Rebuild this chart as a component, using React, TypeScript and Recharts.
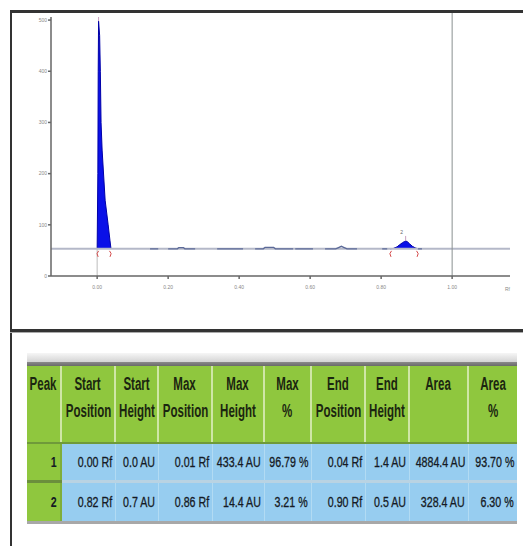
import React from "react";
import {
  ComposedChart,
  Area,
  Line,
  Scatter,
  XAxis,
  YAxis,
  ReferenceLine,
} from "recharts";

// ---------- chart data ----------
const xTicks = [0, 0.2, 0.4, 0.6, 0.8, 1.0];
const yTicks = [0, 100, 200, 300, 400, 500];
const baselineValue = 53;
const markerLineRf = 1.0;

const peak1 = [
  { x: 0.0, y: 53 },
  { x: 0.002, y: 200 },
  { x: 0.003, y: 400 },
  { x: 0.004, y: 498 },
  { x: 0.007, y: 470 },
  { x: 0.009, y: 400 },
  { x: 0.011, y: 300 },
  { x: 0.014, y: 246 },
  { x: 0.0225, y: 148 },
  { x: 0.031, y: 100 },
  { x: 0.036, y: 70 },
  { x: 0.039, y: 53 },
];

const peak2 = [
  { x: 0.825, y: 53 },
  { x: 0.835, y: 54 },
  { x: 0.845, y: 57 },
  { x: 0.852, y: 61 },
  { x: 0.86, y: 65 },
  { x: 0.866, y: 67.5 },
  { x: 0.869, y: 68.5 },
  { x: 0.874, y: 67 },
  { x: 0.88, y: 63 },
  { x: 0.888, y: 58 },
  { x: 0.896, y: 55 },
  { x: 0.904, y: 53 },
];

const signal = [
  { x: 0.149, y: 53 }, { x: 0.172, y: 53 }, { x: 0.18, y: null },
  { x: 0.2, y: 53 }, { x: 0.226, y: 53 }, { x: 0.23, y: 55.5 }, { x: 0.243, y: 55.5 }, { x: 0.247, y: 53 }, { x: 0.276, y: 53 }, { x: 0.29, y: null },
  { x: 0.338, y: 53 }, { x: 0.411, y: 53 }, { x: 0.42, y: null },
  { x: 0.445, y: 53 }, { x: 0.468, y: 53 }, { x: 0.473, y: 56 }, { x: 0.497, y: 56 }, { x: 0.502, y: 53 }, { x: 0.552, y: 53 }, { x: 0.555, y: null },
  { x: 0.558, y: 53 }, { x: 0.608, y: 53 }, { x: 0.62, y: null },
  { x: 0.642, y: 53 }, { x: 0.672, y: 53 }, { x: 0.68, y: 55.5 }, { x: 0.688, y: 58 }, { x: 0.696, y: 55.5 }, { x: 0.704, y: 53 }, { x: 0.732, y: 53 }, { x: 0.74, y: null },
  { x: 0.803, y: 53 }, { x: 0.817, y: 53 }, { x: 0.82, y: null },
  { x: 0.904, y: 53 }, { x: 0.915, y: 53 },
];

const brackets = [
  { x: 0.0, y: 53, side: "L" },
  { x: 0.039, y: 53, side: "R" },
  { x: 0.825, y: 53, side: "L" },
  { x: 0.904, y: 53, side: "R" },
];

const peakApex = [
  { x: 0.004, y: 498, label: "1" },
  { x: 0.869, y: 68.5, label: "2" },
];

// ---------- table data ----------
const tableHeaders = [
  ["Peak"],
  ["Start", "Position"],
  ["Start", "Height"],
  ["Max", "Position"],
  ["Max", "Height"],
  ["Max", "%"],
  ["End", "Position"],
  ["End", "Height"],
  ["Area"],
  ["Area", "%"],
];
const peakIds = ["1", "2"];
const startPositions = ["0.00 Rf", "0.82 Rf"];
const startHeights = ["0.0 AU", "0.7 AU"];
const maxPositions = ["0.01 Rf", "0.86 Rf"];
const maxHeights = ["433.4 AU", "14.4 AU"];
const maxPercents = ["96.79 %", "3.21 %"];
const endPositions = ["0.04 Rf", "0.90 Rf"];
const endHeights = ["1.4 AU", "0.5 AU"];
const areas = ["4884.4 AU", "328.4 AU"];
const areaPercents = ["93.70 %", "6.30 %"];

const colWidths = [35, 54, 43, 54, 52, 47, 54, 44, 59, 48];

const FONT = "'Liberation Sans', Arial, sans-serif";
const GREEN = "#8fc73e";
const BLUE = "#97cdf0";

const BracketShape = (props: any) => {
  const { cx, cy, payload } = props;
  if (cx == null || cy == null) return null;
  const d =
    payload.side === "L"
      ? `M ${cx + 1.5} ${cy + 2} Q ${cx - 1.5} ${cy + 4.5} ${cx + 1} ${cy + 8}`
      : `M ${cx - 1.5} ${cy + 2} Q ${cx + 1.5} ${cy + 4.5} ${cx - 1} ${cy + 8}`;
  return <path d={d} fill="none" stroke="#d44a4a" strokeWidth={1} />;
};

const ApexShape = (props: any) => {
  const { cx, cy, payload } = props;
  if (cx == null || cy == null) return null;
  return (
    <g>
      <line x1={cx} y1={cy - 5} x2={cx} y2={cy} stroke="#c9a0c0" strokeWidth={1} />
      <text
        x={cx - 4}
        y={cy - 7}
        fontSize={5}
        fill="#666"
        textAnchor="middle"
        fontFamily={FONT}
      >
        {payload.label}
      </text>
    </g>
  );
};

const Chromatogram = () => (
  <ComposedChart
    width={523}
    height={320}
    margin={{ top: 17, right: 13, bottom: 0, left: 0 }}
  >
    <XAxis
      type="number"
      dataKey="x"
      domain={[-0.13, 1.163]}
      allowDataOverflow
      ticks={xTicks}
      tickFormatter={(v: number) => v.toFixed(2)}
      tick={{ fontSize: 5, fill: "#888", fontFamily: FONT }}
      tickSize={3}
      tickMargin={6}
      height={44}
      stroke="#666"
      strokeWidth={1.5}
      label={{
        content: (p: any) => {
          const vb = p.viewBox || {};
          return (
            <text
              x={vb.x + vb.width}
              y={vb.y + 15}
              fontSize={5}
              fill="#888"
              textAnchor="end"
              fontFamily={FONT}
            >
              Rf
            </text>
          );
        },
      }}
    />
    <YAxis
      type="number"
      domain={[0, 506]}
      allowDataOverflow
      ticks={yTicks}
      tick={{ fontSize: 5, fill: "#888", fontFamily: FONT }}
      tickSize={3}
      tickMargin={1}
      width={51}
      stroke="#666"
      strokeWidth={1.5}
    />
    <ReferenceLine
      y={baselineValue}
      stroke="#b4b8c8"
      strokeWidth={2}
      ifOverflow="visible"
    />
    <ReferenceLine
      segment={[
        { x: 0, y: 0 },
        { x: 0, y: baselineValue },
      ]}
      stroke="#bdbdbd"
      strokeWidth={1}
    />
    <ReferenceLine
      segment={[
        { x: markerLineRf, y: 0 },
        { x: markerLineRf, y: 514 },
      ]}
      ifOverflow="visible"
      stroke="#8a9090"
      strokeWidth={1}
    />
    <Line
      data={signal}
      dataKey="y"
      type="linear"
      stroke="#5c6a98"
      strokeWidth={1.4}
      dot={false}
      activeDot={false}
      connectNulls={false}
      isAnimationActive={false}
    />
    <Area
      data={peak1}
      dataKey="y"
      type="linear"
      baseValue={baselineValue}
      stroke="#0000a8"
      strokeWidth={1}
      fill="#0a10e8"
      fillOpacity={1}
      dot={false}
      activeDot={false}
      isAnimationActive={false}
    />
    <Area
      data={peak2}
      dataKey="y"
      type="linear"
      baseValue={baselineValue}
      stroke="#0000a8"
      strokeWidth={1}
      fill="#0a10e8"
      fillOpacity={1}
      dot={false}
      activeDot={false}
      isAnimationActive={false}
    />
    <Scatter
      data={brackets}
      dataKey="y"
      shape={<BracketShape />}
      isAnimationActive={false}
    />
    <Scatter
      data={peakApex}
      dataKey="y"
      shape={<ApexShape />}
      isAnimationActive={false}
    />
  </ComposedChart>
);

const HeaderCell = ({ lines, w, last }: { lines: string[]; w: number; last: boolean }) => (
  <div
    style={{
      width: w,
      boxSizing: "border-box",
      height: "100%",
      borderRight: last ? "none" : "2px solid #cfe6a6",
      paddingTop: 5,
    }}
  >
    {lines.map((t, i) => (
      <div
        key={i}
        style={{
          display: "flex",
          justifyContent: "center",
          height: 27,
          lineHeight: "27px",
          whiteSpace: "nowrap",
        }}
      >
        <span
          style={{
            display: "inline-block",
            transform: "scaleX(0.64)",
            transformOrigin: "center",
            fontWeight: "bold",
            fontSize: 18,
            color: "#1b2610",
          }}
        >
          {t}
        </span>
      </div>
    ))}
  </div>
);

const DataCell = ({ text, w, first, last }: { text: string; w: number; first: boolean; last: boolean }) => (
  <div
    style={{
      width: w,
      boxSizing: "border-box",
      height: "100%",
      background: first ? GREEN : BLUE,
      borderRight: last ? "none" : first ? "2px solid #7fae3a" : "1px solid #b2dbf3",
      display: "flex",
      alignItems: "center",
      justifyContent: "flex-end",
      paddingRight: 3,
      whiteSpace: "nowrap",
    }}
  >
    <span
      style={{
        display: "inline-block",
        transform: "scaleX(0.76)",
        transformOrigin: "right center",
        fontSize: 14,
        fontWeight: first ? "bold" : "normal",
        color: "#151a24",
        WebkitTextStroke: first ? undefined : "0.3px #151a24",
      }}
    >
      {text}
    </span>
  </div>
);

const PeakTable = () => {
  const rows = peakIds.map((id, i) => [
    id,
    startPositions[i],
    startHeights[i],
    maxPositions[i],
    maxHeights[i],
    maxPercents[i],
    endPositions[i],
    endHeights[i],
    areas[i],
    areaPercents[i],
  ]);
  const total = colWidths.reduce((a, b) => a + b, 0);
  return (
    <div
      style={{
        position: "absolute",
        left: 27,
        top: 353,
        width: total,
        fontFamily: FONT,
      }}
    >
      <div style={{ height: 9, background: "linear-gradient(#f6f6f6, #d4d4d4)" }} />
      <div style={{ height: 4, background: "linear-gradient(#8a8a8a, #6a6a6a)" }} />
      <div style={{ display: "flex", height: 76, background: GREEN }}>
        {tableHeaders.map((lines, i) => (
          <HeaderCell key={i} lines={lines} w={colWidths[i]} last={i === tableHeaders.length - 1} />
        ))}
      </div>
      <div style={{ height: 2, background: "#6f9a3a" }} />
      {rows.map((r, ri) => (
        <React.Fragment key={ri}>
          {ri > 0 && (
            <div style={{ display: "flex", height: 3 }}>
              <div style={{ width: colWidths[0], background: "#6b8f3c" }} />
              <div style={{ flex: 1, background: "#b9d3e3" }} />
            </div>
          )}
          <div style={{ display: "flex", height: ri === 0 ? 36 : 38 }}>
            {r.map((t, ci) => (
              <DataCell
                key={ci}
                text={t}
                w={colWidths[ci]}
                first={ci === 0}
                last={ci === r.length - 1}
              />
            ))}
          </div>
        </React.Fragment>
      ))}
      <div style={{ height: 3, background: "#a8a8a8" }} />
    </div>
  );
};

export default function App() {
  return (
    <div
      style={{
        position: "absolute",
        left: 0,
        top: 0,
        width: 523,
        height: 546,
        background: "#fff",
        overflow: "hidden",
        fontFamily: FONT,
      }}
    >
      <div style={{ position: "absolute", left: 0, top: 0 }}>
        <Chromatogram />
      </div>
      {/* panel frame */}
      <div style={{ position: "absolute", left: 10, top: 10, width: 513, height: 2.5, background: "#333" }} />
      <div style={{ position: "absolute", left: 10, top: 10, width: 2, height: 536, background: "#333" }} />
      <div style={{ position: "absolute", left: 10, top: 328.5, width: 513, height: 3, background: "#333" }} />
      <div style={{ position: "absolute", left: 10, top: 331.5, width: 513, height: 1, background: "#aaa" }} />
      <PeakTable />
    </div>
  );
}
